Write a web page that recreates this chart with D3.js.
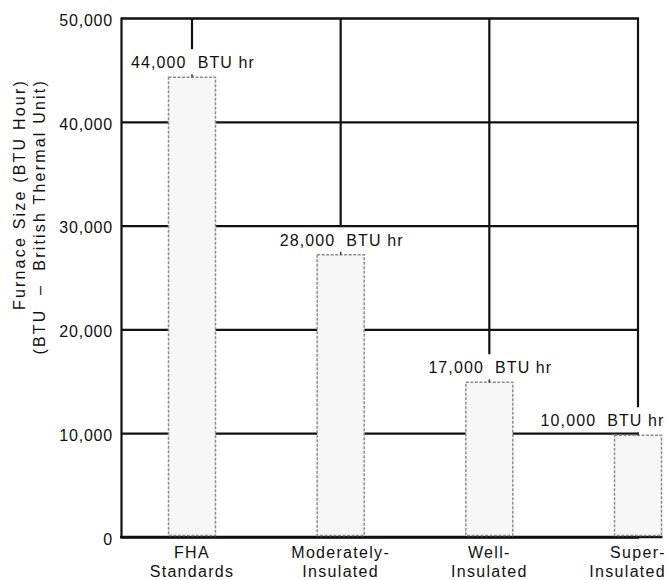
<!DOCTYPE html>
<html>
<head>
<meta charset="utf-8">
<script src="https://cdn.jsdelivr.net/npm/d3@7"></script>
<style>
  html, body { margin: 0; padding: 0; background: #fff; }
  svg { display: block; }
  text { font-family: "Liberation Sans", Arial, Helvetica, sans-serif; fill: #111; white-space: pre; }
</style>
</head>
<body>
<div id="chart"></div>
<script>
// ---- Data ----
const categories = [
  ["FHA", "Standards"],
  ["Moderately-", "Insulated"],
  ["Well-", "Insulated"],
  ["Super-", "Insulated"]
];
// bar heights as drawn in the picture
const barValues = [44300, 27200, 14900, 9800];
// values written in the bar labels
const labelValues = [44000, 28000, 17000, 10000];
const labelUnit = "BTU hr";
const yTicks = [0, 10000, 20000, 30000, 40000, 50000];
const yTitleLines = ["Furnace Size (BTU Hour)", "(BTU  –  British Thermal Unit)"];

// ---- Layout ----
const W = 669, H = 580;
const plotLeft = 121, plotTop = 18, plotBottom = 537;
const firstCenter = 192, lastCenter = 638;
const barWidth = 47;

const svg = d3.select("#chart").append("svg")
  .attr("width", W).attr("height", H);

const y = d3.scaleLinear().domain([0, 50000]).range([plotBottom, plotTop]);
const keys = categories.map(c => c.join(" "));
const x = d3.scalePoint().domain(keys).range([firstCenter, lastCenter]);
const gridRight = x(keys[keys.length - 1]) + 1;

// ---- Y axis with gridlines ----
const yAxis = d3.axisLeft(y)
  .tickValues(yTicks)
  .tickSize(-(gridRight - plotLeft))
  .tickPadding(8)
  .tickFormat(d3.format(","));

const gy = svg.append("g")
  .attr("transform", `translate(${plotLeft},0)`)
  .call(yAxis);
gy.select(".domain").attr("stroke", "#111").attr("stroke-width", 2.2);
gy.selectAll(".tick line").attr("stroke", "#111").attr("stroke-width", 2.2);
gy.selectAll(".tick text")
  .attr("font-size", 16)
  .attr("letter-spacing", 0.8)
  .attr("dy", "0.45em")
  .style("font-family", '"Liberation Sans", Arial, sans-serif')
  .attr("fill", "#111");

// ---- Vertical leader lines (from top down to each label) ----
const labelGap = 9;     // label baseline above bar top
const capH = 12;
svg.append("g").selectAll("line")
  .data(keys)
  .join("line")
  .attr("x1", d => x(d)).attr("x2", d => x(d))
  .attr("y1", y(50000))
  .attr("y2", (d, i) => y(barValues[i]) - labelGap - capH - 7)
  .attr("stroke", "#111").attr("stroke-width", 2.2);

// bottom axis line
svg.append("line")
  .attr("x1", plotLeft - 1)
  .attr("x2", x(keys[keys.length - 1]) + barWidth / 2 + 1)
  .attr("y1", y(0)).attr("y2", y(0))
  .attr("stroke", "#111").attr("stroke-width", 2.4);

// ---- Bars ----
svg.append("g").selectAll("rect")
  .data(keys)
  .join("rect")
  .attr("x", d => x(d) - barWidth / 2)
  .attr("width", barWidth)
  .attr("y", (d, i) => y(barValues[i]))
  .attr("height", (d, i) => y(0) - y(barValues[i]) - 1.5)
  .attr("fill", "#f7f7f7")
  .attr("stroke", "#8c8c8c")
  .attr("stroke-width", 1.5)
  .attr("stroke-dasharray", "3,1.5");

// small tick on top of each bar
svg.append("g").selectAll("line")
  .data(keys)
  .join("line")
  .attr("x1", d => x(d)).attr("x2", d => x(d))
  .attr("y1", (d, i) => y(barValues[i]) - 3)
  .attr("y2", (d, i) => y(barValues[i]))
  .attr("stroke", "#333").attr("stroke-width", 1.5);

// ---- Bar labels ----
const fmt = d3.format(",");
svg.append("g").selectAll("text")
  .data(keys)
  .join("text")
  .attr("font-size", 16)
  .attr("letter-spacing", 1.1)
  .attr("y", (d, i) => y(barValues[i]) - labelGap)
  .text((d, i) => `${fmt(labelValues[i])}  ${labelUnit}`)
  .each(function(d) {
    const t = d3.select(this);
    const w = this.getComputedTextLength();
    const cx = x(d);
    const maxRight = x(d) + barWidth / 2 + 1;
    if (cx + w / 2 > W - 6) {
      t.attr("text-anchor", "end").attr("x", Math.min(maxRight + 2, W - 4));
    } else {
      t.attr("text-anchor", "middle").attr("x", cx + 1);
    }
  });

// ---- Category labels ----
const cat = svg.append("g").selectAll("text")
  .data(categories)
  .join("text")
  .attr("font-size", 16)
  .attr("letter-spacing", 1.3);
cat.each(function(d, i) {
  const g = d3.select(this);
  d.forEach((line, j) => {
    const ts = g.append("tspan")
      .attr("y", 558 + j * 19)
      .attr("text-anchor", "middle")
      .attr("x", x(keys[i]))
      .text(line);
    const w = ts.node().getComputedTextLength();
    if (x(keys[i]) + w / 2 > W - 3) ts.attr("x", W - 3 - w / 2);
  });
});

// ---- Y axis title ----
svg.append("g").selectAll("text")
  .data(yTitleLines)
  .join("text")
  .attr("transform", (d, i) => `translate(${25 + i * 20},${79}) rotate(-90)`)
  .attr("text-anchor", "end")
  .attr("font-size", 16)
  .attr("letter-spacing", 2.2)
  .text(d => d);
</script>
</body>
</html>
